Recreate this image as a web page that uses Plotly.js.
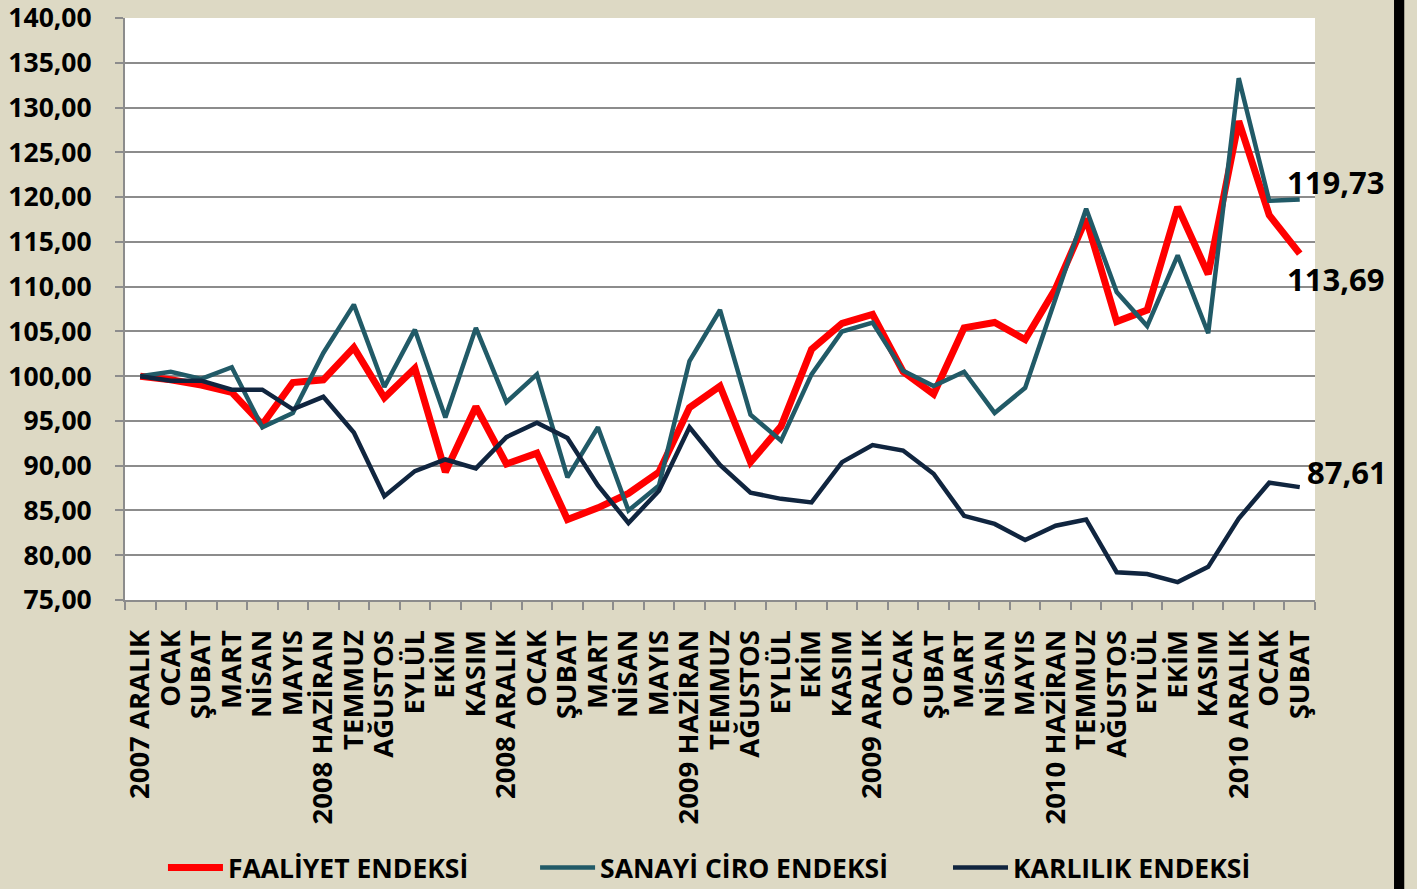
<!DOCTYPE html>
<html>
<head>
<meta charset="utf-8">
<script src="https://cdn.plot.ly/plotly-3.0.1.min.js"></script>
<style>
  html, body { margin: 0; padding: 0; background: #DDD9C4; }
  #chart { width: 1417px; height: 889px; }
</style>
</head>
<body>
<div id="chart"></div>
<script>
const labels = ["2007 ARALIK","OCAK","ŞUBAT","MART","NİSAN","MAYIS","2008 HAZİRAN","TEMMUZ","AĞUSTOS","EYLÜL","EKİM","KASIM",
  "2008 ARALIK","OCAK","ŞUBAT","MART","NİSAN","MAYIS","2009 HAZİRAN","TEMMUZ","AĞUSTOS","EYLÜL","EKİM","KASIM",
  "2009 ARALIK","OCAK","ŞUBAT","MART","NİSAN","MAYIS","2010 HAZİRAN","TEMMUZ","AĞUSTOS","EYLÜL","EKİM","KASIM",
  "2010 ARALIK","OCAK","ŞUBAT"];

const faaliyet = [100, 99.6, 99.0, 98.2, 94.6, 99.3, 99.6, 103.2, 97.6, 100.9, 89.3, 96.6,
  90.2, 91.4, 84.0, 85.3, 86.9, 89.3, 96.5, 98.9, 90.4, 94.4, 103.0, 105.9,
  106.9, 100.5, 98.0, 105.4, 106.0, 104.1, 109.8, 117.6, 106.1, 107.4, 118.9, 111.4,
  128.5, 118.0, 113.69];

const sanayiCiro = [100, 100.5, 99.7, 101.0, 94.3, 95.9, 102.6, 108.0, 98.8, 105.2, 95.4, 105.4,
  97.1, 100.2, 88.7, 94.3, 85.0, 87.8, 101.7, 107.4, 95.7, 92.8, 100.2, 105.0,
  106.0, 100.6, 98.9, 100.5, 95.9, 98.7, 108.7, 118.7, 109.4, 105.6, 113.5, 104.8,
  133.3, 119.6, 119.73];

const karlilik = [100, 99.5, 99.5, 98.5, 98.5, 96.3, 97.7, 93.7, 86.6, 89.4, 90.7, 89.7,
  93.2, 94.8, 93.1, 87.8, 83.6, 87.2, 94.3, 90.1, 87.0, 86.3, 85.9, 90.4,
  92.3, 91.7, 89.1, 84.4, 83.5, 81.7, 83.3, 84.0, 78.1, 77.9, 77.0, 78.7,
  84.1, 88.1, 87.61];

const seriesNames = ["FAALİYET ENDEKSİ", "SANAYİ CİRO ENDEKSİ", "KARLILIK ENDEKSİ"];
const yTicks = [75, 80, 85, 90, 95, 100, 105, 110, 115, 120, 125, 130, 135, 140];

const idx = labels.map((_, i) => i);
const last = labels.length - 1;
const fmt = v => v.toFixed(2).replace('.', ',');

const traces = [
  { x: idx, y: faaliyet, name: seriesNames[0], type: 'scatter', mode: 'lines', legend: 'legend',
    line: { color: '#FF0000', width: 7 } },
  { x: idx, y: sanayiCiro, name: seriesNames[1], type: 'scatter', mode: 'lines', legend: 'legend2',
    line: { color: '#215A67', width: 4.5 } },
  { x: idx, y: karlilik, name: seriesNames[2], type: 'scatter', mode: 'lines', legend: 'legend3',
    line: { color: '#10253F', width: 4.5 } }
];

const annFont = { family: 'Open Sans', size: 31, color: '#000', weight: 'bold' };
const annotations = [
  { x: last, y: sanayiCiro[last], text: fmt(sanayiCiro[last]), xanchor: 'left', yanchor: 'middle',
    xshift: -15, yshift: 18, showarrow: false, font: annFont },
  { x: last, y: faaliyet[last], text: fmt(faaliyet[last]), xanchor: 'left', yanchor: 'middle',
    xshift: -15, yshift: -25, showarrow: false, font: annFont },
  { x: last, y: karlilik[last], text: fmt(karlilik[last]), xanchor: 'left', yanchor: 'middle',
    xshift: 5, yshift: 15, showarrow: false, font: annFont }
];

const legFont = { family: 'Open Sans', size: 26.5, color: '#000', weight: 'bold' };
const legBase = { orientation: 'h', xanchor: 'left', y: -0.46, yanchor: 'middle',
  bgcolor: 'rgba(0,0,0,0)', itemwidth: 55, font: legFont };

const layout = {
  width: 1417, height: 889,
  margin: { l: 125, r: 102, t: 18, b: 289, autoexpand: false },
  paper_bgcolor: '#DDD9C4',
  plot_bgcolor: '#FFFFFF',
  separators: ',.',
  showlegend: true,
  xaxis: {
    range: [-0.5, last + 0.5],
    tickmode: 'array', tickvals: idx, ticktext: labels,
    tickangle: -90, ticks: '',
    showgrid: false, zeroline: false,
    showline: true, linecolor: '#8C8C8C', linewidth: 2,
    ticklabelstandoff: 17,
    tickfont: { family: 'Open Sans', size: 27.5, color: '#000', weight: 'bold' },
    minor: { tickmode: 'linear', tick0: -0.5, dtick: 1, ticks: 'outside', ticklen: 8,
             tickcolor: '#8C8C8C', tickwidth: 2, showgrid: false }
  },
  yaxis: {
    range: [75, 140.02], tickmode: 'array', tickvals: yTicks,
    tickformat: '.2f', ticklabeloverflow: 'allow',
    ticks: 'outside', ticklen: 8, tickcolor: '#8C8C8C', tickwidth: 2,
    showgrid: true, gridcolor: '#8C8C8C', gridwidth: 2,
    zeroline: false,
    showline: true, linecolor: '#8C8C8C', linewidth: 2,
    ticklabelstandoff: 18,
    tickfont: { family: 'Open Sans', size: 26.5, color: '#000', weight: 'bold' }
  },
  legend: Object.assign({}, legBase, { x: 0.0319 }),
  legend2: Object.assign({}, legBase, { x: 0.3446 }),
  legend3: Object.assign({}, legBase, { x: 0.6916 }),
  annotations: annotations,
  shapes: [
    { type: 'rect', xref: 'paper', yref: 'paper', x0: 1.0664, x1: 1.075, y0: -0.5, y1: 1.04,
      fillcolor: '#000000', line: { width: 0 }, layer: 'above' }
  ]
};

Plotly.newPlot('chart', traces, layout, { displayModeBar: false, staticPlot: true });
</script>
</body>
</html>
